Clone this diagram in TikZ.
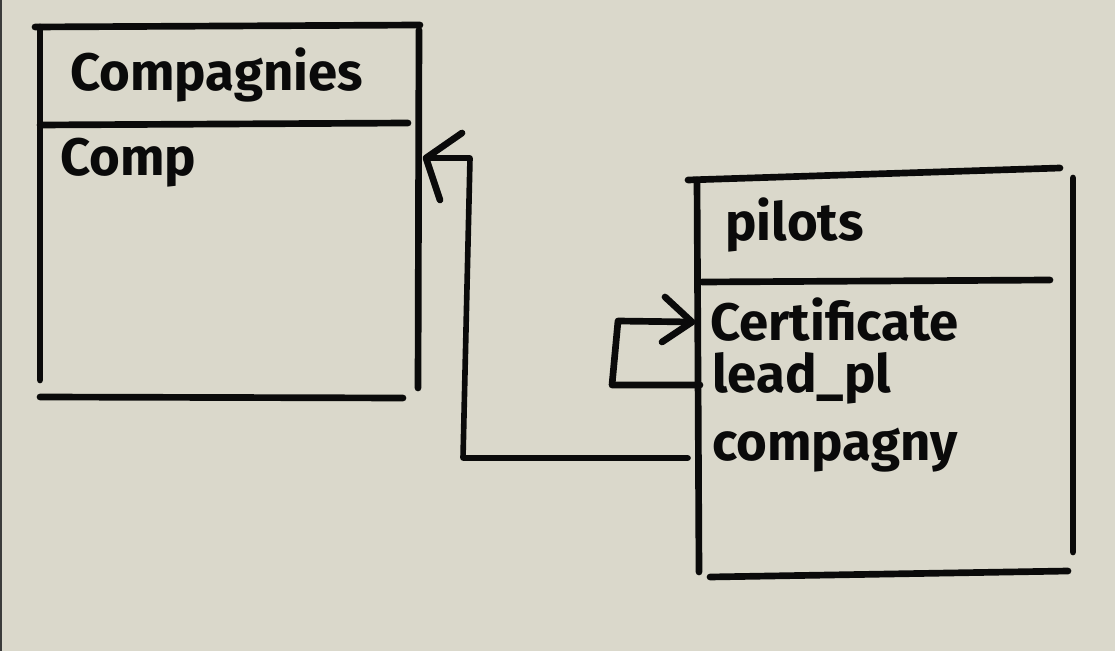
\documentclass[tikz,border=0pt]{standalone}
\usepackage{fontspec}
\setmainfont{Fira Sans}
\usetikzlibrary{calc}
\definecolor{paper}{HTML}{DAD8CB}
\definecolor{ink}{HTML}{0A0A0A}
\begin{document}
\begin{tikzpicture}[x=0.02cm,y=-0.02cm,
  pen/.style={draw=ink,line width=3.8pt,line cap=round,line join=round},
  wire/.style={draw=ink,line width=3.2pt,line cap=round,line join=round},
  lbl/.style={anchor=west,inner sep=0pt,text=ink,font=\fontsize{30}{32}\selectfont\bfseries}]
\fill[paper] (0,0) rectangle (1115,651);
\useasboundingbox (0,0) rectangle (1115,651);
\fill[ink!80] (0,0) rectangle (2,651);
% left box (companies)
\draw[pen] (35,27) -- (420,25);
\draw[pen] (40,27) -- (40,380);
\draw[pen] (419,30) -- (418,388);
\draw[pen] (40,125) -- (408,123);
\draw[pen] (40,397) -- (403,398);
\node[lbl] (ctitle) at (70,75) {Compagnies};
\node[lbl] (comp) at (60,163) {Comp};
\coordinate (compin) at (426,158);
% right box (pilots)
\draw[pen] (688,180) -- (1060,168);
\draw[pen] (697,180) -- (699,572);
\draw[pen] (1073,178) -- (1073,552);
\draw[pen] (702,282) -- (1050,280);
\draw[pen] (710,577) -- (1068,571);
\node[lbl] (ptitle) at (725,225) {pilots};
\node[lbl] (cert) at (710,320) {Certificate};
\node[lbl] (lead) at (712,378) {lead\_pl};
\node[lbl] (cpy) at (712,450) {compagny};
% connectors
\coordinate (cpyout) at (688,458);
\coordinate (bendA) at (463,458);
\coordinate (bendB) at (470,158);
\draw[wire] (cpyout) -- (bendA) -- (bendB) -- (compin);
\draw[pen] ($(compin)+(36,-25)$) -- (compin) -- ($(compin)+(14,42)$);
\coordinate (leadout) at (700,385);
\coordinate (bendC) at (612,385);
\coordinate (bendD) at (618,321);
\coordinate (certin) at (692,322);
\draw[pen] (leadout) -- (bendC) -- (bendD) -- (certin);
\draw[pen] ($(certin)+(-27,-25)$) -- (certin) -- ($(certin)+(-30,20)$);
\end{tikzpicture}
\end{document}
